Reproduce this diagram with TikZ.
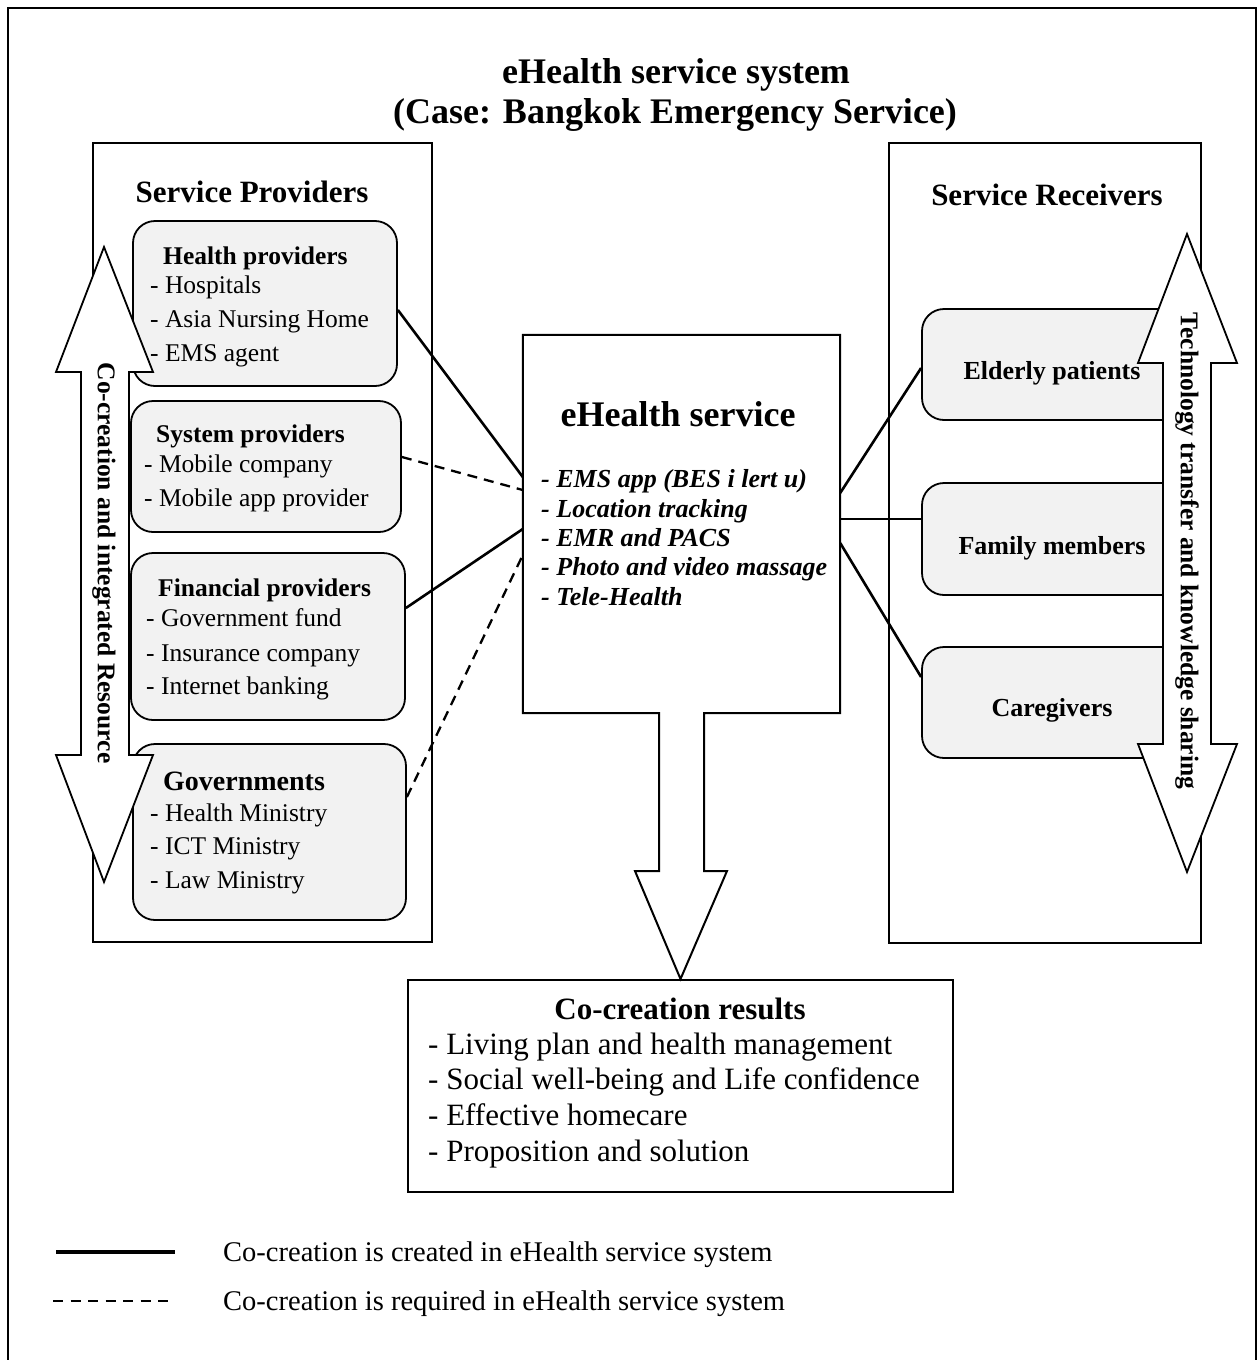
\documentclass[tikz,border=0pt]{standalone}
\usepackage{fontspec}
\setmainfont{Liberation Serif}
\newcommand{\myfs}[1]{\fontsize{#1pt}{#1pt}\selectfont}
\definecolor{boxgray}{HTML}{F2F2F2}
\begin{document}
\begin{tikzpicture}[x=1pt,y=-1pt,
  bigbox/.style={draw, line width=2pt, inner sep=0pt},
  gbox/.style={draw, fill=boxgray, rounded corners=22pt, line width=1.8pt, inner sep=0pt},
  conn/.style={line width=2.6pt},
  dconn/.style={line width=2.3pt, dash pattern=on 10pt off 7pt},
  fat/.style={draw, fill=white, line width=1.8pt, line join=miter},
  txt/.style={inner sep=0pt, anchor=base west, font={\myfs{25.5}}},
  hd/.style={inner sep=0pt, anchor=base west, font={\myfs{25.5}\bfseries}},
  ctr/.style={inner sep=0pt, anchor=base, font={\myfs{26}\bfseries}},
  itm/.style={inner sep=0pt, anchor=base west, font={\myfs{26}\bfseries\itshape}},
  res/.style={inner sep=0pt, anchor=base west, font={\myfs{31}}},
  leg/.style={inner sep=0pt, anchor=base west, font={\myfs{28.5}}},
]
\useasboundingbox (0,0) rectangle (1258,1360);
% outer frame (open at bottom)
\draw[line width=2pt] (8,1365) -- (8,8) -- (1256,8) -- (1256,1365);

% title
\node[inner sep=0pt, anchor=base, font={\myfs{36}\bfseries}] (t1) at (676,83) {eHealth service system};
\node[inner sep=0pt, anchor=base, font={\myfs{36}\bfseries}] (t2) at (675,123) {(Case: Bangkok Emergency Service)};

% big boxes
\node[bigbox, minimum width=339pt, minimum height=799pt] (prov) at (262.5,542.5) {};
\node[bigbox, minimum width=312pt, minimum height=800pt] (recv) at (1045,543) {};
\node[draw=none, inner sep=0pt, minimum width=317pt, minimum height=378pt] (svc) at (681.5,524) {};
\node[bigbox, minimum width=545pt, minimum height=212pt] (res) at (680.5,1086) {};

% central service shape with down arrow
\draw[line width=2pt, line join=miter] (svc.north west) -- (svc.north east) -- (svc.south east)
  -- (704,713) -- (704,871) -- (727,871) -- (res.north) -- (635,871) -- (659,871) -- (659,713)
  -- (svc.south west) -- cycle;

% group boxes
\node[gbox, minimum width=264pt, minimum height=165pt] (hp) at (265,303.5) {};
\node[gbox, minimum width=270pt, minimum height=131pt] (sp) at (266,466.5) {};
\node[gbox, minimum width=274pt, minimum height=167pt] (fp) at (268,636.5) {};
\node[gbox, minimum width=273pt, minimum height=176pt] (gv) at (269.5,832) {};
\node[gbox, minimum width=268pt, minimum height=111pt] (ep) at (1056,364.5) {};
\node[gbox, minimum width=268pt, minimum height=112pt] (fm) at (1056,539) {};
\node[gbox, minimum width=268pt, minimum height=111pt] (cg) at (1056,702.5) {};

% connectors
\draw[conn] (hp.east |- 0,310) -- (svc.west |- 0,477);
\draw[dconn] (sp.east |- 0,457) -- (svc.west |- 0,490);
\draw[conn] (fp.east |- 0,608) -- (svc.west |- 0,529);
\draw[dconn] (gv.east |- 0,797) -- (svc.west |- 0,555);
\draw[conn] (svc.east |- 0,493) -- (ep.west |- 0,368);
\draw[conn] (svc.east |- 0,519) -- (fm.west |- 0,519);
\draw[conn] (svc.east |- 0,543) -- (cg.west |- 0,677);

% double arrows
\draw[fat] (104,247) -- (153,372) -- (129,372) -- (129,755) -- (153,755) -- (104,882)
  -- (56,755) -- (81,755) -- (81,372) -- (56,372) -- cycle;
\draw[fat] (1187,234) -- (1237,363) -- (1211,363) -- (1211,744) -- (1237,744) -- (1187,872)
  -- (1138,744) -- (1163,744) -- (1163,363) -- (1138,363) -- cycle;

% headings
\node[inner sep=0pt, anchor=base, font={\myfs{31}\bfseries}] (provt) at (252,202) {Service Providers};
\node[inner sep=0pt, anchor=base, font={\myfs{31}\bfseries}] (recvt) at (1047,205) {Service Receivers};

% providers text
\node[hd] (hp0) at (163,264) {Health providers};
\node[txt] (hp1) at (150,293) {- Hospitals};
\node[txt] (hp2) at (150,327) {- Asia Nursing Home};
\node[txt] (hp3) at (150,361) {- EMS agent};

\node[hd] (sp0) at (156,442) {System providers};
\node[txt] (sp1) at (144,472) {- Mobile company};
\node[txt] (sp2) at (144,506) {- Mobile app provider};

\node[hd] (fp0) at (158,596) {Financial providers};
\node[txt] (fp1) at (146,626) {- Government fund};
\node[txt] (fp2) at (146,661) {- Insurance company};
\node[txt] (fp3) at (146,694) {- Internet banking};

\node[inner sep=0pt, anchor=base west, font={\myfs{28}\bfseries}] (gv0) at (163,790) {Governments};
\node[txt] (gv1) at (150,821) {- Health Ministry};
\node[txt] (gv2) at (150,854) {- ICT Ministry};
\node[txt] (gv3) at (150,888) {- Law Ministry};

% receivers text
\node[ctr] (ept) at (1052,379) {Elderly patients};
\node[ctr] (fmt) at (1052,554) {Family members};
\node[ctr] (cgt) at (1052,716) {Caregivers};

% arrow labels
\node[inner sep=0pt, rotate=-90, font={\myfs{25.5}\bfseries}] (lres) at (104,563) {Co-creation and integrated Resource};
\node[inner sep=0pt, rotate=-90, font={\myfs{25.5}\bfseries}] (rtech) at (1187,551) {Technology transfer and knowledge sharing};

% service text
\node[inner sep=0pt, anchor=base, font={\myfs{36}\bfseries}] (svct) at (678,426) {eHealth service};
\node[itm] (s1) at (541,487) {- EMS app (BES i lert u)};
\node[itm] (s2) at (541,517) {- Location tracking};
\node[itm] (s3) at (541,546) {- EMR and PACS};
\node[itm] (s4) at (541,575) {- Photo and video massage};
\node[itm] (s5) at (541,605) {- Tele-Health};

% results text
\node[inner sep=0pt, anchor=base, font={\myfs{31}\bfseries}] (r0) at (680,1019) {Co-creation results};
\node[res] (r1) at (428,1054) {- Living plan and health management};
\node[res] (r2) at (428,1089) {- Social well-being and Life confidence};
\node[res] (r3) at (428,1125) {- Effective homecare};
\node[res] (r4) at (428,1161) {- Proposition and solution};

% legend
\coordinate (la) at (56,1252);
\coordinate (lb) at (175,1252);
\coordinate (lc) at (53,1301);
\coordinate (ld) at (173,1301);
\draw[line width=3.2pt] (la) -- (lb);
\draw[line width=2.4pt, dash pattern=on 10pt off 7.5pt] (lc) -- (ld);
\node[leg] (lt1) at (223,1261) {Co-creation is created in eHealth service system};
\node[leg] (lt2) at (223,1310) {Co-creation is required in eHealth service system};
\end{tikzpicture}
\end{document}
